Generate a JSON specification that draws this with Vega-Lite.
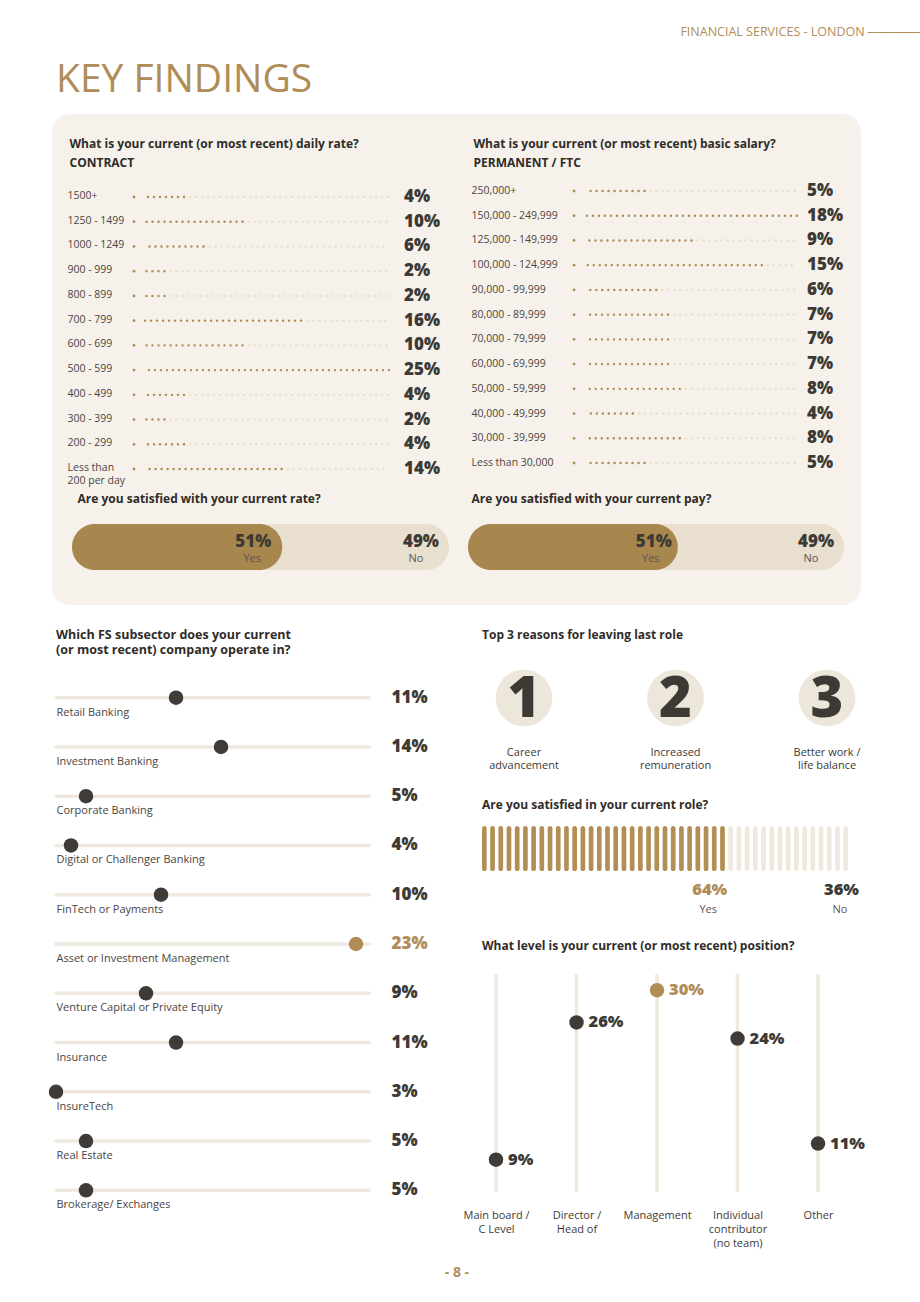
{
  "$schema": "https://vega.github.io/schema/vega-lite/v6.json",
  "background": "#ffffff",
  "padding": {"left": 48, "top": 25, "right": 60, "bottom": 0},
  "title": {"text": "FINANCIAL SERVICES - LONDON   ──────", "anchor": "end", "fontSize": 12.5, "fontWeight": 400, "color": "#b08d57", "dx": 56, "offset": 23},
  "config": {
    "font": "Open Sans",
    "view": {"stroke": null},
    "axis": {"domain": false, "ticks": false, "grid": false},
    "title": {"font": "Open Sans"}
  },
  "bounds": "flush",
  "spacing": 68,
  "vconcat": [
    {
      "width": 809,
      "height": 491,
      "view": {"fill": "#f6f2eb", "cornerRadius": 18, "stroke": null},
      "title": {"text": "KEY FINDINGS", "anchor": "start", "fontSize": 39, "fontWeight": 400, "color": "#b08d57", "offset": 14, "dx": 4},
      "layer": [
        {
          "data": {"values": [
            {"rate": "1500+", "pct": 4},
            {"rate": "1250 - 1499", "pct": 10},
            {"rate": "1000 - 1249", "pct": 6},
            {"rate": "900 - 999", "pct": 2},
            {"rate": "800 - 899", "pct": 2},
            {"rate": "700 - 799", "pct": 16},
            {"rate": "600 - 699", "pct": 10},
            {"rate": "500 - 599", "pct": 25},
            {"rate": "400 - 499", "pct": 4},
            {"rate": "300 - 399", "pct": 2},
            {"rate": "200 - 299", "pct": 4},
            {"rate": "Less than 200 per day", "pct": 14}
          ]},
          "transform": [{"calculate": "datum.pct + '%'", "as": "label"}],
          "encoding": {
            "y": {
              "field": "rate", "type": "nominal", "sort": null,
              "scale": {"paddingInner": 0, "paddingOuter": 0, "range": [70.6, 367.4]},
              "axis": {
                "orient": "left", "labelAlign": "left", "labelPadding": -15, "labelBaseline": "top", "labelOffset": -6,
                "labelFontSize": 10.5, "labelColor": "#4a4540", "labelLineHeight": 13,
                "labelExpr": "datum.label == 'Less than 200 per day' ? ['Less than', '200 per day'] : datum.label",
                "title": ["What is your current (or most recent) daily rate?", "CONTRACT"],
                "titleAngle": 0, "titleAlign": "left", "titleBaseline": "top", "titleX": 17, "titleY": 24,
                "titleFontSize": 12, "titleFontWeight": 700, "titleColor": "#2f2c28", "titleLineHeight": 19
              }
            }
          },
          "layer": [
            {"mark": {"type": "rule", "color": "#e7dfd1", "strokeWidth": 2.4, "strokeDash": [0.1, 5.9], "strokeCap": "round"},
             "encoding": {"x": {"field": "pct", "type": "quantitative", "scale": {"domain": [-9.529, 73.36], "zero": false, "nice": false}, "axis": null}, "x2": {"datum": 25}}},
            {"mark": {"type": "rule", "color": "#b08d57", "strokeWidth": 2.4, "strokeDash": [0.1, 5.9], "strokeCap": "round"},
             "encoding": {"x": {"field": "pct", "type": "quantitative", "axis": null}, "x2": {"datum": 0}}},
            {"mark": {"type": "point", "filled": true, "size": 8, "opacity": 1, "color": "#b08d57"},
             "encoding": {"x": {"datum": -1.13, "type": "quantitative", "axis": null}}},
            {"mark": {"type": "text", "align": "left", "dx": 15, "fontSize": 17, "fontWeight": 800, "color": "#3d3a35"},
             "encoding": {"x": {"datum": 25, "type": "quantitative", "axis": null}, "text": {"field": "label"}}}
          ]
        },
        {
          "data": {"values": [
            {"question": "Are you satisfied with your current rate?", "answer": "Yes", "pct": 51},
            {"question": "Are you satisfied with your current rate?", "answer": "No", "pct": 49}
          ]},
          "transform": [
            {"stack": "pct", "groupby": ["question"], "sort": [{"field": "answer", "order": "descending"}], "as": ["start", "end"]},
            {"calculate": "datum.pct + '%'", "as": "label"}
          ],
          "encoding": {
            "y": {
              "field": "question", "type": "nominal",
              "scale": {"paddingInner": 0, "paddingOuter": 0, "range": [410, 456]},
              "axis": {"orient": "left", "labelAlign": "left", "labelPadding": -25, "labelOffset": -48, "labelFontSize": 12, "labelFontWeight": 700, "labelColor": "#2f2c28", "labelLimit": 400, "title": null}
            }
          },
          "layer": [
            {"transform": [{"filter": "datum.answer == 'No'"}],
             "mark": {"type": "bar", "color": "#e8dfcf", "cornerRadius": 23},
             "encoding": {"x": {"field": "end", "type": "quantitative", "scale": {"domain": [-5.305, 209.3], "zero": false, "nice": false}, "axis": null}, "x2": {"datum": 0}}},
            {"transform": [{"filter": "datum.answer == 'Yes'"}],
             "mark": {"type": "bar", "color": "#a8874f", "cornerRadius": 23, "x2Offset": 18},
             "encoding": {"x": {"field": "start", "type": "quantitative", "axis": null}, "x2": {"field": "end"}}},
            {"transform": [{"filter": "datum.answer == 'Yes'"}],
             "mark": {"type": "text", "align": "right", "dx": 7, "dy": -5, "fontSize": 17, "fontWeight": 800, "color": "#3d3a35"},
             "encoding": {"x": {"field": "end", "type": "quantitative", "axis": null}, "text": {"field": "label"}}},
            {"transform": [{"filter": "datum.answer == 'Yes'"}],
             "mark": {"type": "text", "align": "center", "dx": -12, "dy": 12, "fontSize": 11, "color": "#5a554f"},
             "encoding": {"x": {"field": "end", "type": "quantitative", "axis": null}, "text": {"field": "answer"}}},
            {"transform": [{"filter": "datum.answer == 'No'"}],
             "mark": {"type": "text", "align": "right", "dx": -10, "dy": -5, "fontSize": 17, "fontWeight": 800, "color": "#3d3a35"},
             "encoding": {"x": {"field": "end", "type": "quantitative", "axis": null}, "text": {"field": "label"}}},
            {"transform": [{"filter": "datum.answer == 'No'"}],
             "mark": {"type": "text", "align": "center", "dx": -33, "dy": 12, "fontSize": 11, "color": "#5a554f"},
             "encoding": {"x": {"field": "end", "type": "quantitative", "axis": null}, "text": {"field": "answer"}}}
          ]
        },
        {
          "data": {"values": [
            {"salary": "250,000+", "pct": 5},
            {"salary": "150,000 - 249,999", "pct": 18},
            {"salary": "125,000 - 149,999", "pct": 9},
            {"salary": "100,000 - 124,999", "pct": 15},
            {"salary": "90,000 - 99,999", "pct": 6},
            {"salary": "80,000 - 89,999", "pct": 7},
            {"salary": "70,000 - 79,999", "pct": 7},
            {"salary": "60,000 - 69,999", "pct": 7},
            {"salary": "50,000 - 59,999", "pct": 8},
            {"salary": "40,000 - 49,999", "pct": 4},
            {"salary": "30,000 - 39,999", "pct": 8},
            {"salary": "Less than 30,000", "pct": 5}
          ]},
          "transform": [{"calculate": "datum.pct + '%'", "as": "label"}],
          "encoding": {
            "y": {
              "field": "salary", "type": "nominal", "sort": null,
              "scale": {"paddingInner": 0, "paddingOuter": 0, "range": [64.6, 361.4]},
              "axis": {
                "orient": "left", "offset": -419, "labelAlign": "left", "labelPadding": 0,
                "labelFontSize": 10.5, "labelColor": "#4a4540", "labelLimit": 200,
                "title": ["What is your current (or most recent) basic salary?", "PERMANENT / FTC"],
                "titleAngle": 0, "titleAlign": "left", "titleBaseline": "top", "titleX": 2, "titleY": 24,
                "titleFontSize": 12, "titleFontWeight": 700, "titleColor": "#2f2c28", "titleLineHeight": 19
              }
            }
          },
          "layer": [
            {"mark": {"type": "rule", "color": "#e7dfd1", "strokeWidth": 2.4, "strokeDash": [0.1, 5.9], "strokeCap": "round"},
             "encoding": {"x": {"field": "pct", "type": "quantitative", "scale": {"domain": [-45.56, 23.46], "zero": false, "nice": false}, "axis": null}, "x2": {"datum": 18}}},
            {"mark": {"type": "rule", "color": "#b08d57", "strokeWidth": 2.4, "strokeDash": [0.1, 5.9], "strokeCap": "round"},
             "encoding": {"x": {"field": "pct", "type": "quantitative", "axis": null}, "x2": {"datum": 0}}},
            {"mark": {"type": "point", "filled": true, "size": 8, "opacity": 1, "color": "#b08d57"},
             "encoding": {"x": {"datum": -1.02, "type": "quantitative", "axis": null}}},
            {"mark": {"type": "text", "align": "left", "dx": 10, "fontSize": 17, "fontWeight": 800, "color": "#3d3a35"},
             "encoding": {"x": {"datum": 18, "type": "quantitative", "axis": null}, "text": {"field": "label"}}}
          ]
        },
        {
          "data": {"values": [
            {"question": "Are you satisfied with your current pay?", "answer": "Yes", "pct": 51},
            {"question": "Are you satisfied with your current pay?", "answer": "No", "pct": 49}
          ]},
          "transform": [
            {"stack": "pct", "groupby": ["question"], "sort": [{"field": "answer", "order": "descending"}], "as": ["start", "end"]},
            {"calculate": "datum.pct + '%'", "as": "label"}
          ],
          "encoding": {
            "y": {
              "field": "question", "type": "nominal",
              "scale": {"paddingInner": 0, "paddingOuter": 0, "range": [410, 456]},
              "axis": {"orient": "left", "offset": -419, "labelAlign": "left", "labelPadding": 0, "labelOffset": -48, "labelFontSize": 12, "labelFontWeight": 700, "labelColor": "#2f2c28", "labelLimit": 400, "title": null}
            }
          },
          "layer": [
            {"transform": [{"filter": "datum.answer == 'No'"}],
             "mark": {"type": "bar", "color": "#e8dfcf", "cornerRadius": 23},
             "encoding": {"x": {"field": "end", "type": "quantitative", "scale": {"domain": [-110.64, 104.52], "zero": false, "nice": false}, "axis": null}, "x2": {"datum": 0}}},
            {"transform": [{"filter": "datum.answer == 'Yes'"}],
             "mark": {"type": "bar", "color": "#a8874f", "cornerRadius": 23, "x2Offset": 18},
             "encoding": {"x": {"field": "start", "type": "quantitative", "axis": null}, "x2": {"field": "end"}}},
            {"transform": [{"filter": "datum.answer == 'Yes'"}],
             "mark": {"type": "text", "align": "right", "dx": 12, "dy": -5, "fontSize": 17, "fontWeight": 800, "color": "#3d3a35"},
             "encoding": {"x": {"field": "end", "type": "quantitative", "axis": null}, "text": {"field": "label"}}},
            {"transform": [{"filter": "datum.answer == 'Yes'"}],
             "mark": {"type": "text", "align": "center", "dx": -9, "dy": 12, "fontSize": 11, "color": "#5a554f"},
             "encoding": {"x": {"field": "end", "type": "quantitative", "axis": null}, "text": {"field": "answer"}}},
            {"transform": [{"filter": "datum.answer == 'No'"}],
             "mark": {"type": "text", "align": "right", "dx": -10, "dy": -5, "fontSize": 17, "fontWeight": 800, "color": "#3d3a35"},
             "encoding": {"x": {"field": "end", "type": "quantitative", "axis": null}, "text": {"field": "label"}}},
            {"transform": [{"filter": "datum.answer == 'No'"}],
             "mark": {"type": "text", "align": "center", "dx": -33, "dy": 12, "fontSize": 11, "color": "#5a554f"},
             "encoding": {"x": {"field": "end", "type": "quantitative", "axis": null}, "text": {"field": "answer"}}}
          ]
        }
      ],
      "resolve": {"scale": {"x": "independent", "y": "independent"}}
    },
    {
      "bounds": "flush",
      "spacing": 37,
      "title": {"text": "- 8 -", "orient": "bottom", "anchor": "middle", "fontSize": 14, "fontWeight": 700, "color": "#b08d57", "offset": 18},
      "hconcat": [
        {
          "width": 393,
          "height": 542,
          "title": {"text": ["Which FS subsector does your current", "(or most recent) company operate in?"], "anchor": "start", "frame": "group", "fontSize": 12.5, "fontWeight": 700, "color": "#2f2c28", "offset": 17, "dx": 4, "lineHeight": 15},
          "data": {"values": [
            {"sector": "Retail Banking", "pct": 11},
            {"sector": "Investment Banking", "pct": 14},
            {"sector": "Corporate Banking", "pct": 5},
            {"sector": "Digital or Challenger Banking", "pct": 4},
            {"sector": "FinTech or Payments", "pct": 10},
            {"sector": "Asset or Investment Management", "pct": 23},
            {"sector": "Venture Capital or Private Equity", "pct": 9},
            {"sector": "Insurance", "pct": 11},
            {"sector": "InsureTech", "pct": 3},
            {"sector": "Real Estate", "pct": 5},
            {"sector": "Brokerage/ Exchanges", "pct": 5}
          ]},
          "transform": [
            {"joinaggregate": [{"op": "max", "field": "pct", "as": "maxPct"}]},
            {"calculate": "datum.pct + '%'", "as": "label"}
          ],
          "encoding": {
            "y": {
              "field": "sector", "type": "nominal", "sort": null,
              "scale": {"paddingInner": 0, "paddingOuter": 0},
              "axis": {"orient": "left", "labelAlign": "left", "labelPadding": -4, "labelOffset": 15, "labelFontSize": 11, "labelColor": "#4a4540", "labelLimit": 300, "title": null}
            }
          },
          "layer": [
            {"mark": {"type": "rule", "color": "#efe9df", "strokeWidth": 3.5, "strokeCap": "round"},
             "encoding": {"x": {"field": "pct", "type": "quantitative", "scale": {"domain": [2.733, 28.93], "zero": false, "nice": false}, "axis": null}, "x2": {"datum": 3}}},
            {"mark": {"type": "rule", "color": "#efe9df", "strokeWidth": 3.5, "strokeCap": "round"},
             "encoding": {"x": {"field": "pct", "type": "quantitative", "axis": null}, "x2": {"datum": 23.9}}},
            {"mark": {"type": "point", "filled": true, "size": 210, "opacity": 1},
             "encoding": {
               "x": {"field": "pct", "type": "quantitative", "axis": null},
               "color": {"condition": {"test": "datum.pct == datum.maxPct", "value": "#b08d57"}, "value": "#403b36"}
             }},
            {"mark": {"type": "text", "align": "left", "dx": 22, "fontSize": 17, "fontWeight": 800},
             "encoding": {
               "x": {"datum": 23.9, "type": "quantitative", "axis": null},
               "text": {"field": "label"},
               "color": {"condition": {"test": "datum.pct == datum.maxPct", "value": "#b08d57"}, "value": "#3d3a35"}
             }}
          ]
        },
        {
          "bounds": "flush",
          "spacing": 103,
          "vconcat": [
            {
              "width": 379,
              "height": 50,
              "title": {"text": "Top 3 reasons for leaving last role", "anchor": "start", "frame": "group", "fontSize": 12, "fontWeight": 700, "color": "#2f2c28", "offset": 28},
              "data": {"values": [
                {"rank": "1", "reason": "Career\nadvancement"},
                {"rank": "2", "reason": "Increased\nremuneration"},
                {"rank": "3", "reason": "Better work /\nlife balance"}
              ]},
              "encoding": {"x": {"field": "rank", "type": "ordinal", "scale": {"type": "point", "padding": 0.2508, "align": 0.553}, "axis": null}},
              "layer": [
                {"mark": {"type": "point", "filled": true, "size": 3217, "opacity": 1, "color": "#ede6da"}, "encoding": {}},
                {"mark": {"type": "text", "fontSize": 56, "fontWeight": 900, "color": "#3d3a35", "baseline": "middle", "dy": 2}, "encoding": {"text": {"field": "rank"}}},
                {"mark": {"type": "text", "fontSize": 11, "color": "#3d3a35", "baseline": "top", "dy": 49, "lineHeight": 13, "lineBreak": "\n"}, "encoding": {"text": {"field": "reason"}}}
              ]
            },
            {
              "width": 366,
              "height": 45,
              "title": {"text": "Are you satisfied in your current role?", "anchor": "start", "frame": "group", "fontSize": 12, "fontWeight": 700, "color": "#2f2c28", "offset": 14},
              "layer": [
                {
                  "data": {"values": [
                    {"bar": 1, "answer": "Yes"}, {"bar": 2, "answer": "Yes"}, {"bar": 3, "answer": "Yes"}, {"bar": 4, "answer": "Yes"}, {"bar": 5, "answer": "Yes"},
                    {"bar": 6, "answer": "Yes"}, {"bar": 7, "answer": "Yes"}, {"bar": 8, "answer": "Yes"}, {"bar": 9, "answer": "Yes"}, {"bar": 10, "answer": "Yes"},
                    {"bar": 11, "answer": "Yes"}, {"bar": 12, "answer": "Yes"}, {"bar": 13, "answer": "Yes"}, {"bar": 14, "answer": "Yes"}, {"bar": 15, "answer": "Yes"},
                    {"bar": 16, "answer": "Yes"}, {"bar": 17, "answer": "Yes"}, {"bar": 18, "answer": "Yes"}, {"bar": 19, "answer": "Yes"}, {"bar": 20, "answer": "Yes"},
                    {"bar": 21, "answer": "Yes"}, {"bar": 22, "answer": "Yes"}, {"bar": 23, "answer": "Yes"}, {"bar": 24, "answer": "Yes"}, {"bar": 25, "answer": "Yes"},
                    {"bar": 26, "answer": "Yes"}, {"bar": 27, "answer": "Yes"}, {"bar": 28, "answer": "Yes"}, {"bar": 29, "answer": "Yes"}, {"bar": 30, "answer": "Yes"},
                    {"bar": 31, "answer": "No"}, {"bar": 32, "answer": "No"}, {"bar": 33, "answer": "No"}, {"bar": 34, "answer": "No"}, {"bar": 35, "answer": "No"},
                    {"bar": 36, "answer": "No"}, {"bar": 37, "answer": "No"}, {"bar": 38, "answer": "No"}, {"bar": 39, "answer": "No"}, {"bar": 40, "answer": "No"},
                    {"bar": 41, "answer": "No"}, {"bar": 42, "answer": "No"}, {"bar": 43, "answer": "No"}, {"bar": 44, "answer": "No"}, {"bar": 45, "answer": "No"}
                  ]},
                  "mark": {"type": "bar", "cornerRadius": 2.4},
                  "encoding": {
                    "x": {"field": "bar", "type": "ordinal", "scale": {"paddingInner": 0.43, "paddingOuter": 0}, "axis": null},
                    "color": {"field": "answer", "type": "nominal", "scale": {"domain": ["Yes", "No"], "range": ["#b38f55", "#efe8dc"]}, "legend": null}
                  }
                },
                {
                  "data": {"values": [
                    {"answer": "Yes", "pct": 64},
                    {"answer": "No", "pct": 36}
                  ]},
                  "transform": [
                    {"stack": "pct", "groupby": [], "sort": [{"field": "answer", "order": "descending"}], "as": ["start", "end"]},
                    {"calculate": "datum.pct + '%'", "as": "label"}
                  ],
                  "layer": [
                    {"mark": {"type": "text", "align": "right", "dx": 11, "dy": 41, "fontSize": 16.5, "fontWeight": 800},
                     "encoding": {
                       "x": {"field": "end", "type": "quantitative", "scale": {"domain": [0, 100]}, "axis": null},
                       "text": {"field": "label"},
                       "color": {"field": "answer", "type": "nominal", "scale": {"domain": ["Yes", "No"], "range": ["#b08d57", "#3d3a35"]}, "legend": null}
                     }},
                    {"mark": {"type": "text", "align": "center", "dx": -8, "dy": 61, "fontSize": 11, "color": "#5a554f"},
                     "encoding": {"x": {"field": "end", "type": "quantitative", "axis": null}, "text": {"field": "answer"}}}
                  ]
                }
              ],
              "resolve": {"scale": {"x": "independent", "color": "independent"}}
            },
            {
              "width": 379,
              "height": 218,
              "title": {"text": "What level is your current (or most recent) position?", "anchor": "start", "frame": "group", "fontSize": 12, "fontWeight": 700, "color": "#2f2c28", "offset": 19},
              "data": {"values": [
                {"level": "Main board / C Level", "pct": 9},
                {"level": "Director / Head of", "pct": 26},
                {"level": "Management", "pct": 30},
                {"level": "Individual contributor (no team)", "pct": 24},
                {"level": "Other", "pct": 11}
              ]},
              "transform": [
                {"joinaggregate": [{"op": "max", "field": "pct", "as": "maxPct"}]},
                {"calculate": "datum.pct + '%'", "as": "label"}
              ],
              "encoding": {
                "x": {
                  "field": "level", "type": "nominal", "sort": null,
                  "scale": {"type": "point", "padding": 0.354, "align": 0.246},
                  "axis": {
                    "orient": "bottom", "labelPadding": 17, "labelBaseline": "top", "labelAngle": 0, "labelFontSize": 11, "labelColor": "#3d3a35", "labelLineHeight": 14, "title": null,
                    "labelExpr": "datum.label == 'Main board / C Level' ? ['Main board /', 'C Level'] : datum.label == 'Director / Head of' ? ['Director /', 'Head of'] : datum.label == 'Individual contributor (no team)' ? ['Individual', 'contributor', '(no team)'] : datum.label"
                  }
                }
              },
              "layer": [
                {"mark": {"type": "rule", "color": "#f0e9de", "strokeWidth": 3.5},
                 "encoding": {"y": {"field": "pct", "type": "quantitative", "scale": {"domain": [5, 32], "zero": false, "nice": false}, "axis": null}, "y2": {"datum": 5}}},
                {"mark": {"type": "rule", "color": "#f0e9de", "strokeWidth": 3.5},
                 "encoding": {"y": {"field": "pct", "type": "quantitative", "axis": null}, "y2": {"datum": 32}}},
                {"mark": {"type": "point", "filled": true, "size": 210, "opacity": 1},
                 "encoding": {
                   "y": {"field": "pct", "type": "quantitative", "axis": null},
                   "color": {"condition": {"test": "datum.pct == datum.maxPct", "value": "#b08d57"}, "value": "#403b36"}
                 }},
                {"mark": {"type": "text", "align": "left", "dx": 12, "fontSize": 16.5, "fontWeight": 800},
                 "encoding": {
                   "y": {"field": "pct", "type": "quantitative", "axis": null},
                   "text": {"field": "label"},
                   "color": {"condition": {"test": "datum.pct == datum.maxPct", "value": "#b08d57"}, "value": "#3d3a35"}
                 }}
              ]
            }
          ]
        }
      ]
    }
  ]
}
